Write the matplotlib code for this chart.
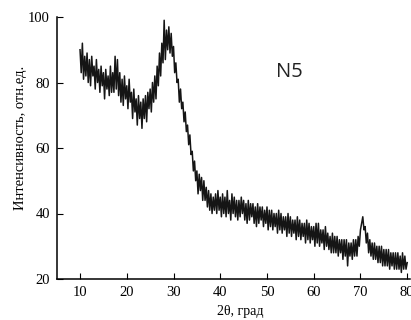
import numpy as np
import matplotlib
matplotlib.use("Agg")
import matplotlib.pyplot as plt

# scan: 2theta from 10 to 80 deg, step 0.25
theta_start = 10.0
theta_step = 0.25

seg_10_20 = [90, 83, 92, 81, 88, 82, 89, 80, 87, 79, 88, 82, 85, 78, 87, 80,
             84, 77, 85, 79, 83, 75, 84, 78, 82, 76, 85, 77, 83, 77, 88, 78,
             87, 76, 83, 74, 81, 73, 82, 75]
seg_20_30 = [79, 72, 81, 74, 77, 69, 78, 71, 75, 67, 76, 69, 74, 66, 75, 69,
             76, 68, 77, 72, 78, 71, 80, 74, 82, 75, 85, 79, 89, 82, 92, 86,
             99, 87, 96, 90, 97, 89, 95, 88]
seg_30_40 = [91, 83, 86, 80, 81, 74, 78, 72, 74, 68, 71, 65, 67, 61, 64, 58,
             59, 53, 56, 50, 53, 46, 52, 47, 51, 44, 50, 44, 48, 42, 47, 41,
             46, 40, 45, 41, 46, 40, 47, 41]
seg_40_50 = [45, 39, 46, 40, 45, 39, 47, 40, 44, 38, 46, 40, 45, 39, 44, 38,
             44, 39, 45, 40, 44, 38, 43, 37, 44, 38, 43, 39, 43, 37, 42, 36,
             43, 37, 42, 38, 42, 36, 41, 37]
seg_50_60 = [42, 35, 41, 36, 41, 35, 40, 36, 40, 34, 41, 35, 40, 34, 39, 35,
             39, 33, 40, 34, 39, 33, 38, 34, 38, 32, 39, 33, 38, 32, 37, 33,
             37, 31, 38, 32, 37, 31, 36, 32]
seg_60_70 = [36, 30, 37, 31, 37, 30, 35, 31, 35, 29, 36, 30, 34, 29, 33, 28,
             34, 28, 33, 28, 33, 27, 32, 28, 32, 26, 32, 27, 32, 24, 31, 27,
             31, 26, 32, 27, 32, 27, 33, 30]
seg_70_80 = [35, 37, 39, 35, 36, 31, 34, 28, 32, 27, 31, 26, 31, 26, 30, 25,
             30, 25, 30, 24, 29, 24, 29, 24, 29, 23, 28, 24, 28, 23, 28, 23,
             28, 23, 27, 22, 28, 23, 27, 23, 25]

intensity = np.array(seg_10_20 + seg_20_30 + seg_30_40 + seg_40_50 +
                     seg_50_60 + seg_60_70 + seg_70_80, dtype=float)
theta = theta_start + theta_step * np.arange(len(intensity))

x_ticks = [10, 20, 30, 40, 50, 60, 70, 80]
y_ticks = [20, 40, 60, 80, 100]

fig = plt.figure(figsize=(4.11, 3.20), dpi=100)
ax = fig.add_axes([57/411, 1-279/320, 353/411, 262/320])
ax.plot(theta, intensity, color="#151515", lw=1.1)
ax.set_xlim(5.07, 80.6)
ax.set_ylim(20, 100)
ax.set_xticks(x_ticks)
ax.set_yticks(y_ticks)
serif = "Liberation Serif"
for lab in ax.get_xticklabels() + ax.get_yticklabels():
    lab.set_fontfamily(serif)
    lab.set_fontsize(10.5)
ax.tick_params(direction="in", length=4, width=0.8, pad=5)
for s in ["top", "right"]:
    ax.spines[s].set_visible(False)
for s in ["left", "bottom"]:
    ax.spines[s].set_linewidth(1.1)
ax.set_xlabel("2θ, град", fontfamily=serif, fontsize=10)
ax.set_ylabel("Интенсивность, отн.ед.", fontfamily=serif, fontsize=10.5)
ax.xaxis.set_label_coords((240-57)/353, -26/262)
ax.yaxis.set_label_coords(-30/353, (279-138)/262)
ax.text(54.7, 83.2, "N5", fontfamily="Open Sans", fontsize=14.5, ha="center",
        va="center", color="#222")
fig.savefig("out.png", dpi=100)
